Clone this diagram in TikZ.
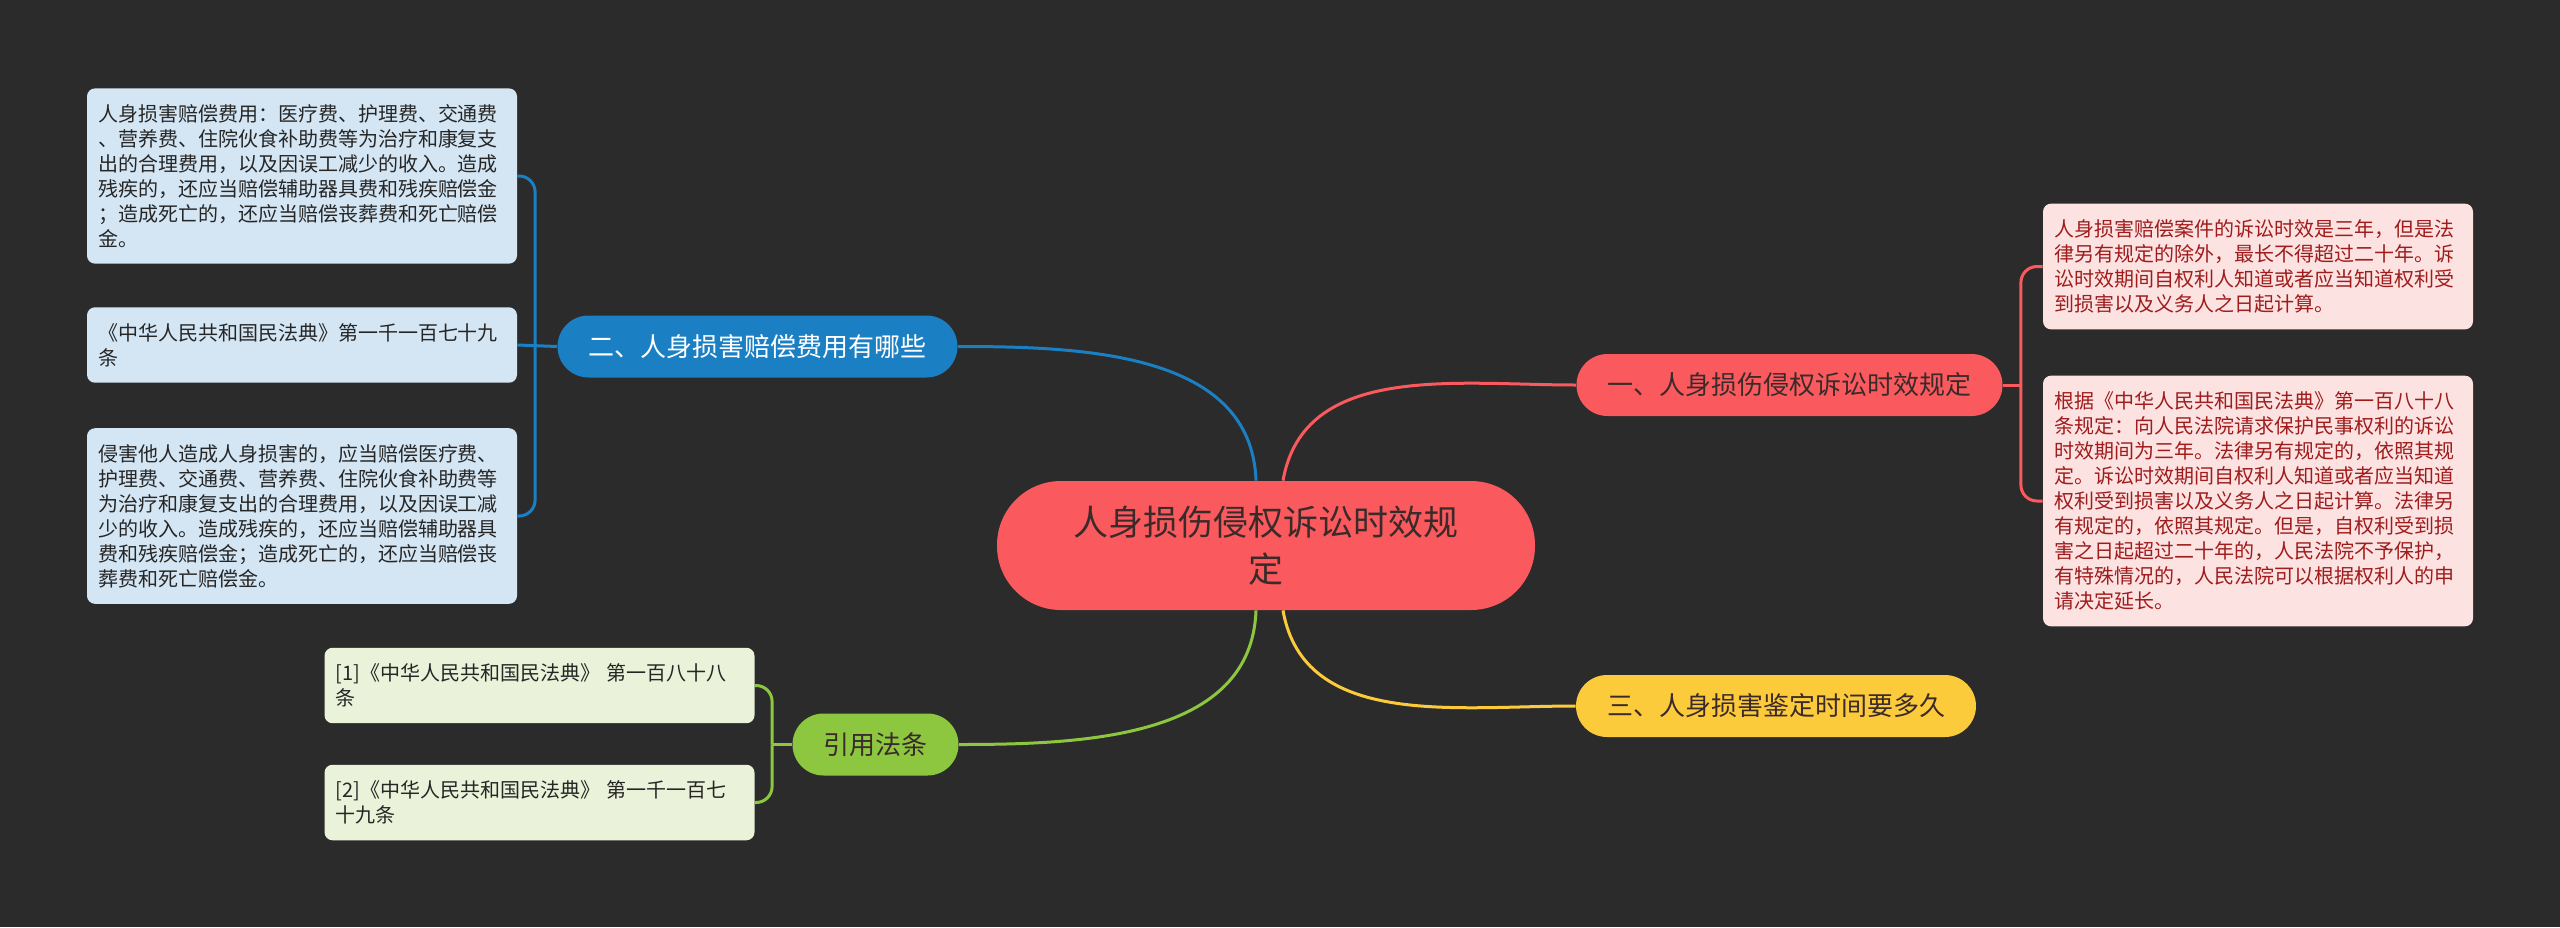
\documentclass[tikz,border=0pt]{standalone}
\usepackage{fontspec}
\setmainfont{Noto Sans CJK SC}
\usetikzlibrary{positioning}

\definecolor{bgcol}{HTML}{2B2B2B}
\definecolor{rootred}{HTML}{FA5A5E}
\definecolor{darktext}{HTML}{3A2A2A}
\definecolor{topicblue}{HTML}{1B7FC4}
\definecolor{topicyellow}{HTML}{FCCB3C}
\definecolor{topicgreen}{HTML}{8DC73F}
\definecolor{leafblue}{HTML}{D4E6F4}
\definecolor{leafred}{HTML}{FDE2E2}
\definecolor{leafgreen}{HTML}{EAF3D9}
\definecolor{redtext}{HTML}{9E1C1C}

\begin{document}
\begin{tikzpicture}[x=0.5pt, y=-0.5pt,
		root/.style={fill=rootred, text=darktext, rounded corners=32pt, minimum width=269pt, minimum height=64.5pt, align=center, font=\fontsize{17.5}{23.5}\selectfont},
		topic/.style={rounded corners=15.5pt, minimum height=31pt, inner xsep=15.5pt, inner ysep=0pt, font=\fontsize{13}{15}\selectfont},
		leaf/.style={rounded corners=4pt, text width=204pt, inner xsep=5.5pt, inner ysep=8pt, align=left, font=\fontsize{10}{12.5}\selectfont},
		link/.style={line width=1.5pt}
		]
		\fill [bgcol] (0,0) rectangle (2560,927);
		\useasboundingbox (0,0) rectangle (2560,927);
		
		% centre and main topics
		\node [root] (root) at (1266,545.5) {人身损伤侵权诉讼时效规\\定};
		\node [topic, fill=rootred, text=darktext] (limit) at (1789.5,385) {一、人身损伤侵权诉讼时效规定};
		\node [topic, fill=topicblue, text=white] (costs) at (757.5,346.5) {二、人身损害赔偿费用有哪些};
		\node [topic, fill=topicyellow, text=darktext] (appraisal) at (1776,706) {三、人身损害鉴定时间要多久};
		\node [topic, fill=topicgreen, text=darktext] (refs) at (875.5,744.5) {引用法条};
		
		% leaves
		\node [leaf, fill=leafblue, text=black!85] (costs a) at (302,176) {人身损害赔偿费用：医疗费、护理费、交通费\\、营养费、住院伙食补助费等为治疗和康复支\\出的合理费用，以及因误工减少的收入。造成\\残疾的，还应当赔偿辅助器具费和残疾赔偿金\\；造成死亡的，还应当赔偿丧葬费和死亡赔偿\\金。};
		\node [leaf, fill=leafblue, text=black!85] (costs b) at (302,345) {《中华人民共和国民法典》第一千一百七十九\\条};
		\node [leaf, fill=leafblue, text=black!85] (costs c) at (302,516) {侵害他人造成人身损害的，应当赔偿医疗费、\\护理费、交通费、营养费、住院伙食补助费等\\为治疗和康复支出的合理费用，以及因误工减\\少的收入。造成残疾的，还应当赔偿辅助器具\\费和残疾赔偿金；造成死亡的，还应当赔偿丧\\葬费和死亡赔偿金。};
		\node [leaf, fill=leafred, text=redtext] (limit a) at (2258,266.5) {人身损害赔偿案件的诉讼时效是三年，但是法\\律另有规定的除外，最长不得超过二十年。诉\\讼时效期间自权利人知道或者应当知道权利受\\到损害以及义务人之日起计算。};
		\node [leaf, fill=leafred, text=redtext] (limit b) at (2258,501) {根据《中华人民共和国民法典》第一百八十八\\条规定：向人民法院请求保护民事权利的诉讼\\时效期间为三年。法律另有规定的，依照其规\\定。诉讼时效期间自权利人知道或者应当知道\\权利受到损害以及义务人之日起计算。法律另\\有规定的，依照其规定。但是，自权利受到损\\害之日起超过二十年的，人民法院不予保护，\\有特殊情况的，人民法院可以根据权利人的申\\请决定延长。};
		\node [leaf, fill=leafgreen, text=black!85] (refs a) at (539.5,685.5) {[1]《中华人民共和国民法典》 第一百八十八\\条};
		\node [leaf, fill=leafgreen, text=black!85] (refs b) at (539.5,802.5) {[2]《中华人民共和国民法典》 第一千一百七\\十九条};
		
		% main links
		\draw [link, topicblue] ([xshift=-5pt]root.north) to [out=92, in=0] (costs.east);
		\draw [link, rootred] ([xshift=8.5pt]root.north) to [out=80, in=180] (limit.west);
		\draw [link, topicgreen] ([xshift=-5pt]root.south) to [out=-92, in=0] (refs.east);
		\draw [link, topicyellow] ([xshift=8.5pt]root.south) to [out=-80, in=180] (appraisal.west);
		
		% brackets to leaves
		\coordinate (costs fork) at ([xshift=-11pt]costs.west);
		\coordinate (limit fork) at ([xshift=9pt]limit.east);
		\coordinate (refs fork) at ([xshift=-10pt]refs.west);
		
		\draw [link, topicblue] (costs.west) -- (costs b.east);
		\draw [link, topicblue, rounded corners=8pt] (costs fork) |- (costs a.east);
		\draw [link, topicblue, rounded corners=8pt] (costs fork) |- (costs c.east);
		\draw [link, rootred] (limit.east) -- (limit fork);
		\draw [link, rootred, rounded corners=8pt] (limit fork) |- (limit a.west);
		\draw [link, rootred, rounded corners=8pt] (limit fork) |- (limit b.west);
		\draw [link, topicgreen] (refs.west) -- (refs fork);
		\draw [link, topicgreen, rounded corners=8pt] (refs fork) |- (refs a.east);
		\draw [link, topicgreen, rounded corners=8pt] (refs fork) |- (refs b.east);
	\end{tikzpicture}
\end{document}
